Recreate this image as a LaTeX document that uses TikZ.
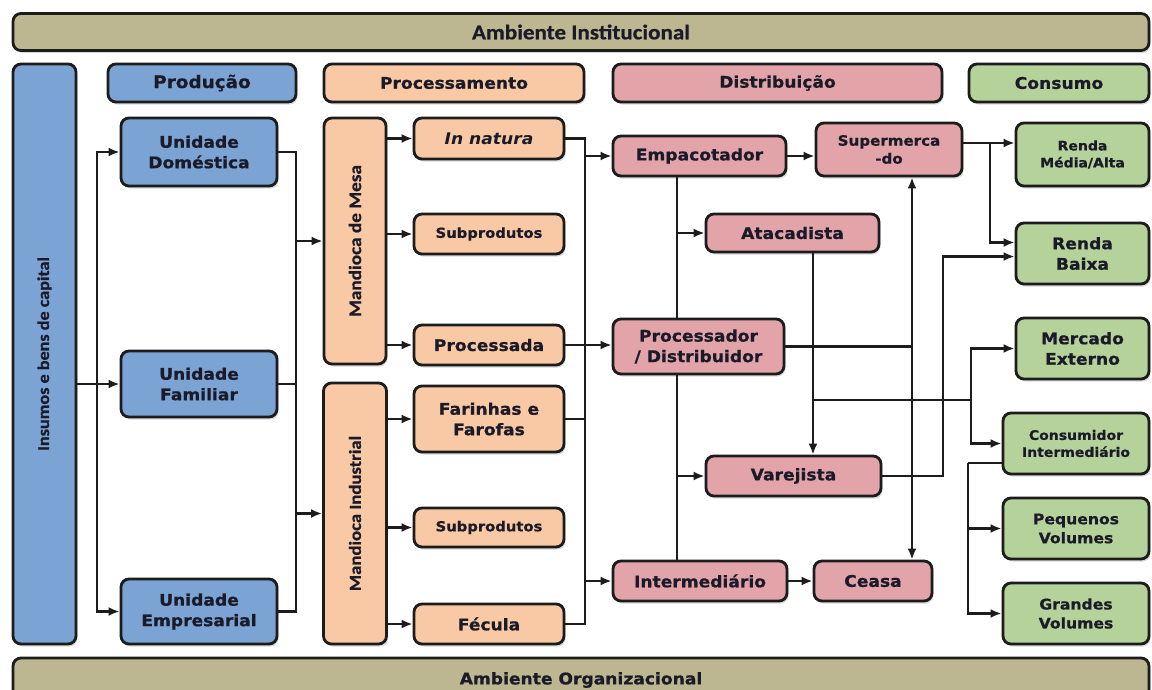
\documentclass[tikz,border=0pt]{standalone}
\usepackage{fontspec}
\setmainfont{DejaVu Sans}[FakeStretch=1.07, BoldFeatures={FakeBold=0.7}]
\newfontfamily\estreita{Carlito}[FakeStretch=1.1, BoldFeatures={FakeBold=0.7}]
\usetikzlibrary{arrows.meta,shadows}

\definecolor{azul}{HTML}{7BA3D3}
\definecolor{pessego}{HTML}{F8C9A4}
\definecolor{rosa}{HTML}{E2A4A9}
\definecolor{verde}{HTML}{B5D29A}
\definecolor{oliva}{HTML}{BCB691}
\definecolor{borda}{HTML}{1C1C1C}
\definecolor{texto}{HTML}{1A1A28}

\newcommand{\tamfonte}[2]{\fontsize{#1}{#2}\selectfont}

\tikzset{
  caixa/.style={draw=borda, line width=2.8pt, rounded corners=8pt, inner sep=1pt,
    align=center, text=texto, font=\bfseries\tamfonte{16}{20.5},
    drop shadow={shadow xshift=1.5pt, shadow yshift=-2.5pt, opacity=.3}},
  tam/.style 2 args={minimum width=#1pt, minimum height=#2pt},
  prodbox/.style={caixa, fill=azul},
  procbox/.style={caixa, fill=pessego},
  distbox/.style={caixa, fill=rosa},
  consbox/.style={caixa, fill=verde},
  ambbox/.style={caixa, fill=oliva},
  estreito/.style={font=\estreita\bfseries\tamfonte{#1}{#1}},
  linha/.style={draw=borda, line width=2.6pt},
  seta/.style={linha, -{Latex[length=11pt,width=9pt]}},
  dupla/.style={linha, {Latex[length=11pt,width=9pt]}-{Latex[length=11pt,width=9pt]}},
}

\begin{document}
\begin{tikzpicture}[x=1pt,y=-1pt]
\useasboundingbox[fill=white] (0,0) rectangle (1152,689);

% ambientes e cabecalhos
\node[ambbox, tam={1136}{37}, estreito=21] (amb1) at (581,32) {Ambiente Institucional};
\node[ambbox, tam={1136}{44}] (amb2) at (581,680) {Ambiente Organizacional};
\node[prodbox, rotate=90, tam={580}{63}, estreito=16.5] (ins) at (44.5,354) {Insumos e bens de capital};
\node[prodbox, tam={188}{38}, font=\bfseries\tamfonte{17.2}{20}] (hprod) at (202,83) {Produção};
\node[procbox, tam={260}{38}] (hproc) at (454,83) {Processamento};
\node[distbox, tam={329}{38}] (hdist) at (777.5,83) {Distribuição};
\node[consbox, tam={180}{38}] (hcons) at (1059,83) {Consumo};

% producao
\node[prodbox, tam={156}{68}] (dom) at (199,152) {Unidade\\Doméstica};
\node[prodbox, tam={156}{66}] (fam) at (199,384) {Unidade\\Familiar};
\node[prodbox, tam={156}{65}] (emp) at (199,611.5) {Unidade\\Empresarial};

% processamento
\node[procbox, rotate=90, tam={246}{62}, estreito=17.5] (mesa) at (355,241) {Mandioca de Mesa};
\node[procbox, rotate=90, tam={261}{63}, estreito=17] (ind) at (355,513.5) {Mandioca Industrial};
\node[procbox, tam={150}{41}] (innat) at (489,138.5) {\itshape In natura};
\node[procbox, tam={150}{40}, font=\bfseries\tamfonte{13.8}{16}] (sub1) at (489,234) {Subprodutos};
\node[procbox, tam={150}{40}] (procd) at (489,345) {Processada};
\node[procbox, tam={150}{66}] (far) at (489,419) {Farinhas e\\Farofas};
\node[procbox, tam={150}{39}, font=\bfseries\tamfonte{13.8}{16}] (sub2) at (489,527.5) {Subprodutos};
\node[procbox, tam={150}{40}] (fec) at (489,624) {Fécula};

% distribuicao
\node[distbox, tam={173}{40}] (empac) at (699.5,156) {Empacotador};
\node[distbox, tam={173}{38}] (atac) at (792.5,233) {Atacadista};
\node[distbox, tam={171}{55}] (pdist) at (698.5,346.5) {Processador\\/ Distribuidor};
\node[distbox, tam={175}{40}] (varej) at (793.5,476) {Varejista};
\node[distbox, tam={174}{40}] (interm) at (700,581) {Intermediário};
\node[distbox, tam={146}{53}, font=\bfseries\tamfonte{14.1}{18}] (super) at (889,149.5) {Supermerca\\-do};
\node[distbox, tam={118}{40}] (ceasa) at (873,581) {Ceasa};

% consumo
\node[consbox, tam={133}{63}, font=\bfseries\tamfonte{13.1}{17}] (rma) at (1082.5,154.5) {Renda\\Média/Alta};
\node[consbox, tam={133}{61}] (rb) at (1082.5,253.5) {Renda\\Baixa};
\node[consbox, tam={133}{61}] (me) at (1082.5,348.5) {Mercado\\Externo};
\node[consbox, tam={146}{61}, font=\bfseries\tamfonte{13.1}{17}] (ci) at (1076,443.5) {Consumidor\\Intermediário};
\node[consbox, tam={146}{61}, font=\bfseries\tamfonte{14.6}{19}] (pv) at (1076,528.5) {Pequenos\\Volumes};
\node[consbox, tam={146}{61}, font=\bfseries\tamfonte{14.6}{19}] (gv) at (1076,613.5) {Grandes\\Volumes};

% insumos -> producao
\coordinate (b0) at (97,0);
\draw[seta] (ins.south |- fam) -- (fam.west);
\draw[seta] (b0 |- fam) |- (dom.west);
\draw[seta] (b0 |- fam) |- (emp.west);

% producao -> mandioca
\coordinate (b1) at (296,0);
\draw[linha] (dom.east) -| (b1 |- emp.east) -- (emp.east);
\draw[linha] (fam.east) -- (b1 |- fam.east);
\draw[seta] (b1 |- mesa) -- (mesa.north);
\draw[seta] (b1 |- ind) -- (ind.north);

% mandioca -> produtos
\draw[seta] (mesa.south |- innat) -- (innat.west);
\draw[seta] (mesa.south |- sub1) -- (sub1.west);
\draw[seta] (mesa.south |- procd) -- (procd.west);
\draw[seta] (ind.south |- far) -- (far.west);
\draw[seta] (ind.south |- sub2) -- (sub2.west);
\draw[seta] (ind.south |- fec) -- (fec.west);

% produtos -> distribuicao
\coordinate (b2) at (585,0);
\draw[linha] (innat.east) -| (b2 |- fec.east) -- (fec.east);
\draw[linha] (far.east) -- (b2 |- far.east);
\draw[seta] (procd.east) -- (pdist.west |- procd.east);
\draw[seta] (b2 |- empac) -- (empac.west);
\draw[seta] (b2 |- interm) -- (interm.west);

% distribuicao
\coordinate (b3) at (677,0);
\draw[linha] (b3 |- empac.south) -- (b3 |- pdist.north);
\draw[linha] (b3 |- pdist.south) -- (b3 |- interm.north);
\draw[seta] (b3 |- atac) -- (atac.west);
\draw[seta] (b3 |- varej) -- (varej.west);
\draw[seta] (empac.east) -- (super.west |- empac.east);
\draw[seta] (interm.east) -- (ceasa.west);
\coordinate (b4) at (912,0);
\draw[dupla] (b4 |- super.south) -- (b4 |- ceasa.north);
\draw[linha] (pdist.east) -- (b4 |- pdist.east);
\coordinate (b5) at (813,400);
\draw[seta] (b5 |- atac.south) -- (b5 |- varej.north);
\coordinate (b6) at (971,400);
\draw[linha] (b5) -- (b6);
\draw[seta] (b6) |- (me.west);
\draw[seta] (b6) |- (ci.west);

% consumo
\coordinate (b7) at (943,0);
\draw[seta] (varej.east) -- (b7 |- varej.east) |- ([yshift=-3pt]rb.west);
\coordinate (b8) at (990,143);
\draw[linha] (super.east |- b8) -- (b8);
\draw[seta] (b8) -- (rma.west |- b8);
\draw[seta] (b8) |- ([yshift=11pt]rb.west);
\coordinate (b9) at (968,463);
\draw[linha] (ci.west |- b9) -- (b9);
\draw[seta] (b9) |- (pv.west);
\draw[seta] (b9) |- (gv.west);

\end{tikzpicture}
\end{document}
